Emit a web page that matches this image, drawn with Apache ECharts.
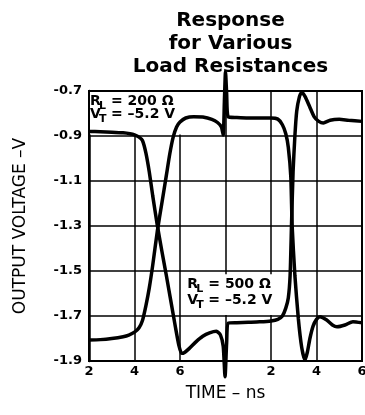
<!DOCTYPE html>
<html>
<head>
<meta charset="utf-8">
<script src="https://cdn.jsdelivr.net/npm/echarts@6.0.0/dist/echarts.min.js"></script>
<style>
  html, body { margin: 0; padding: 0; background: #fff; }
  #chart { width: 365px; height: 415px; }
</style>
</head>
<body>
<div id="chart"></div>
<script>
// two scope sweeps glued side by side: 0..6 is the first sweep (2..8 ns),
// 6..12 the second one (0..6 ns)
const xTicks = { 0: "2", 2: "4", 4: "6", 6: "", 8: "2", 10: "4", 12: "6" };
const yTicks = [-1.9, -1.7, -1.5, -1.3, -1.1, -0.9, -0.7];

// trace that starts high
const traceATime = [0, 0.5, 1.0, 1.5, 1.8, 2.0, 2.2, 2.35, 2.5, 2.65, 2.8, 3.0, 3.2, 3.4, 3.6, 3.8, 3.95, 4.07, 4.2, 4.4, 4.7, 5.0, 5.3, 5.6, 5.78, 5.9, 5.98, 6.05, 6.12,
  6.5, 7.0, 7.5, 8.0, 8.3, 8.5, 8.65, 8.76, 8.84, 8.9, 8.97, 9.05, 9.13, 9.25, 9.35, 9.5, 9.7, 9.9, 10.1, 10.3, 10.6, 11.0, 11.4, 12.0];
const traceAVolt = [-0.880, -0.881, -0.883, -0.886, -0.890, -0.895, -0.905, -0.920, -0.975, -1.06, -1.165, -1.295, -1.41, -1.52, -1.635, -1.75, -1.83, -1.866, -1.862, -1.845, -1.815, -1.79, -1.775, -1.768, -1.785, -1.835, -1.97, -1.82, -1.732,
  -1.73, -1.728, -1.726, -1.722, -1.715, -1.70, -1.665, -1.62, -1.52, -1.30, -1.06, -0.90, -0.79, -0.725, -0.705, -0.725, -0.77, -0.815, -0.835, -0.842, -0.83, -0.826, -0.83, -0.835];

// trace that starts low
const traceBTime = [0, 0.5, 1.0, 1.5, 1.75, 2.0, 2.2, 2.35, 2.5, 2.65, 2.8, 3.0, 3.2, 3.4, 3.55, 3.7, 3.85, 4.0, 4.25, 4.6, 5.0, 5.4, 5.65, 5.82, 5.9, 5.95, 6.0, 6.05, 6.12,
  6.5, 7.0, 7.5, 8.0, 8.3, 8.5, 8.65, 8.76, 8.87, 8.93, 9.05, 9.2, 9.35, 9.49, 9.6, 9.71, 9.85, 10.0, 10.15, 10.45, 10.7, 10.9, 11.25, 11.6, 12.0];
const traceBVolt = [-1.807, -1.805, -1.80, -1.792, -1.785, -1.772, -1.752, -1.72, -1.655, -1.575, -1.475, -1.325, -1.20, -1.075, -0.98, -0.905, -0.86, -0.838, -0.82, -0.814, -0.816, -0.826, -0.84, -0.86, -0.895, -0.75, -0.614, -0.71, -0.815,
  -0.818, -0.82, -0.82, -0.82, -0.825, -0.85, -0.89, -0.95, -1.08, -1.30, -1.52, -1.71, -1.84, -1.896, -1.86, -1.80, -1.745, -1.715, -1.703, -1.718, -1.74, -1.748, -1.74, -1.725, -1.73];

const FONT = '"DejaVu Sans", sans-serif';

const zip = (xs, ys) => xs.map((x, i) => [x, ys[i]]);

const chart = echarts.init(document.getElementById("chart"));

const traceStyle = {
  type: "line",
  showSymbol: false,
  smooth: 0.2,
  clip: false,
  z: 2,
  lineStyle: { color: "#000", width: 3.5 },
};

chart.setOption({
  animation: false,
  title: {
    text: "Response\nfor Various\nLoad Resistances",
    left: 225.5,
    top: 4,
    textAlign: "center",
    textStyle: { fontFamily: FONT, fontSize: 20, fontWeight: "bold", lineHeight: 23, color: "#000" },
  },
  grid: {
    left: 89, right: 3, top: 91, bottom: 54,
    outerBoundsMode: "none",
    containLabel: false,
    show: true, borderColor: "#000", borderWidth: 2, backgroundColor: "transparent",
  },
  xAxis: {
    type: "value",
    min: 0, max: 12, interval: 2,
    name: "TIME \u2013 ns",
    nameLocation: "middle",
    nameGap: 24,
    nameTextStyle: { fontFamily: FONT, fontSize: 17, color: "#000" },
    axisLine: { lineStyle: { color: "#000", width: 2 } },
    axisTick: { show: false },
    axisLabel: {
      margin: 4,
      fontFamily: FONT, fontSize: 13, fontWeight: "bold", color: "#000",
      formatter: (v) => xTicks[Math.round(v)] ?? "",
    },
    splitLine: { show: true, lineStyle: { color: "#000", width: 1.5 } },
  },
  yAxis: {
    type: "value",
    min: yTicks[0], max: yTicks[yTicks.length - 1], interval: 0.2,
    name: "OUTPUT VOLTAGE \u2013V",
    nameLocation: "middle",
    nameGap: 60,
    nameTextStyle: { fontFamily: FONT, fontSize: 17, color: "#000" },
    axisLine: { show: true, lineStyle: { color: "#000", width: 2.5 } },
    axisTick: { show: false },
    axisLabel: {
      margin: 7,
      fontFamily: FONT, fontSize: 13, fontWeight: "bold", color: "#000",
      formatter: (v) => v.toFixed(1),
    },
    splitLine: { show: true, lineStyle: { color: "#000", width: 1.5 } },
  },
  series: [
    { ...traceStyle, name: "A", data: zip(traceATime, traceAVolt) },
    { ...traceStyle, name: "B", data: zip(traceBTime, traceBVolt) },
  ],
});

// white label boxes, placed from data coordinates
const px = (x, y) => chart.convertToPixel({ gridIndex: 0 }, [x, y]);

const labelBox = (from, to, load, indent, row1, row2) => {
  const a = px(from[0], from[1]);
  const b = px(to[0], to[1]);
  const big = { fontFamily: FONT, fontSize: 14, fontWeight: "bold", fill: "#000", verticalAlign: "middle" };
  const sub = { ...big, fontSize: 11 };
  const x0 = a[0] + indent, y0 = a[1];
  return [
    { type: "rect", z: 1, silent: true,
      shape: { x: a[0] + 1, y: a[1] + 1, width: b[0] - a[0] - 1, height: b[1] - a[1] - 1 },
      style: { fill: "#fff" } },
    { type: "text", z: 3, style: { ...big, text: "R", x: x0, y: y0 + row1 } },
    { type: "text", z: 3, style: { ...sub, text: "L", x: x0 + 9, y: y0 + row1 + 5 } },
    { type: "text", z: 3, style: { ...big, text: "= " + load + " \u03a9", x: x0 + 21, y: y0 + row1 } },
    { type: "text", z: 3, style: { ...big, text: "V", x: x0, y: y0 + row2 } },
    { type: "text", z: 3, style: { ...sub, text: "T", x: x0 + 9, y: y0 + row2 + 5 } },
    { type: "text", z: 3, style: { ...big, text: "= \u20135.2 V", x: x0 + 21, y: y0 + row2 } },
  ];
};

chart.setOption({
  graphic: [
    ...labelBox([0, -0.7], [4.9, -0.893], "200", 1, 10, 23),
    ...labelBox([4.1, -1.51], [8.35, -1.695], "500", 5, 11, 27),
  ],
});
</script>
</body>
</html>
